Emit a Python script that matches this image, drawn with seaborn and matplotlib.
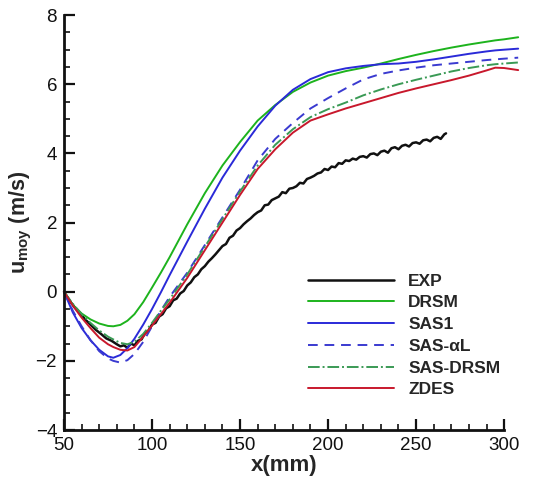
import matplotlib
matplotlib.use("Agg")
import matplotlib.pyplot as plt
import seaborn as sns
import pandas as pd
from matplotlib.ticker import MultipleLocator

sns.set_style("ticks")
plt.rcParams['font.family'] = ['Liberation Sans', 'DejaVu Sans']
plt.rcParams['mathtext.fontset'] = 'custom'
plt.rcParams['mathtext.bf'] = 'Liberation Sans:bold'
plt.rcParams['mathtext.rm'] = 'Liberation Sans'

# ---- data ----
exp_x = [50, 53, 56, 59, 62, 65, 68, 71, 74, 77, 80, 82, 84, 86, 88, 90, 92, 94, 96, 98,
         100, 102, 104, 106, 108, 110, 112, 114, 116, 118, 120, 122, 124, 126, 128, 130,
         132, 134, 136, 138, 140, 142, 144, 146, 148, 150, 152, 154, 156, 158, 160, 162,
         164, 166, 168, 170, 172, 174, 176, 178, 180, 182, 184, 186, 188, 190, 192, 194,
         196, 198, 200, 202, 204, 206, 208, 210, 212, 214, 216, 218, 220, 222, 224, 226,
         228, 230, 232, 234, 236, 238, 240, 242, 244, 246, 248, 250, 252, 254, 256, 258,
         260, 262, 264, 266, 267]
exp_y = [0.0, -0.25, -0.45, -0.62, -0.8, -0.95, -1.1, -1.22, -1.35, -1.42, -1.52, -1.58,
         -1.55, -1.62, -1.5, -1.55, -1.42, -1.38, -1.2, -1.12, -0.95, -0.9, -0.72, -0.65,
         -0.48, -0.42, -0.25, -0.2, -0.05, 0.02, 0.18, 0.27, 0.42, 0.5, 0.65, 0.74, 0.87,
         0.97, 1.08, 1.2, 1.32, 1.38, 1.56, 1.62, 1.77, 1.84, 1.95, 2.04, 2.12, 2.22, 2.3,
         2.35, 2.5, 2.52, 2.65, 2.7, 2.75, 2.88, 2.85, 2.98, 3.0, 3.05, 3.15, 3.13, 3.26,
         3.3, 3.35, 3.42, 3.45, 3.55, 3.52, 3.62, 3.6, 3.72, 3.7, 3.8, 3.78, 3.85, 3.82,
         3.9, 3.92, 3.88, 3.98, 4.0, 3.95, 4.05, 4.08, 4.02, 4.15, 4.18, 4.12, 4.22, 4.25,
         4.2, 4.3, 4.32, 4.28, 4.38, 4.4, 4.35, 4.45, 4.48, 4.42, 4.55, 4.58]

sim_x = [50, 55, 60, 65, 70, 75, 78, 82, 86, 90, 95, 100, 105, 110, 120, 130, 140, 150,
         160, 170, 180, 190, 200, 210, 220, 230, 240, 250, 260, 270, 280, 290, 295, 300, 308]
drsm_y = [0.0, -0.38, -0.63, -0.8, -0.92, -0.99, -1.0, -0.96, -0.84, -0.65, -0.3, 0.12,
          0.55, 1.0, 1.95, 2.85, 3.65, 4.33, 4.95, 5.4, 5.78, 6.05, 6.25, 6.38, 6.48, 6.6,
          6.73, 6.85, 6.96, 7.06, 7.15, 7.23, 7.27, 7.3, 7.36]
sas1_y = [0.0, -0.6, -1.05, -1.4, -1.68, -1.87, -1.91, -1.83, -1.63, -1.36, -0.95, -0.5,
          -0.02, 0.48, 1.45, 2.4, 3.3, 4.08, 4.78, 5.38, 5.84, 6.15, 6.35, 6.46, 6.53, 6.58,
          6.6, 6.65, 6.72, 6.8, 6.88, 6.95, 6.98, 7.0, 7.03]
sasal_y = [0.0, -0.55, -1.0, -1.4, -1.72, -1.93, -2.0, -2.05, -1.98, -1.8, -1.45, -1.0,
           -0.55, -0.15, 0.55, 1.35, 2.15, 2.95, 3.8, 4.42, 4.88, 5.3, 5.6, 5.88, 6.14,
           6.3, 6.4, 6.48, 6.55, 6.6, 6.65, 6.7, 6.72, 6.74, 6.77]
sasdrsm_y = [0.0, -0.35, -0.65, -0.9, -1.12, -1.3, -1.38, -1.48, -1.52, -1.45, -1.22, -0.9,
             -0.55, -0.22, 0.5, 1.3, 2.1, 2.9, 3.65, 4.25, 4.7, 5.05, 5.28, 5.47, 5.68, 5.85,
             6.0, 6.13, 6.25, 6.37, 6.47, 6.55, 6.58, 6.6, 6.63]
zdes_y = [0.0, -0.4, -0.75, -1.05, -1.33, -1.52, -1.6, -1.68, -1.7, -1.6, -1.3, -0.98,
          -0.65, -0.32, 0.4, 1.2, 2.0, 2.8, 3.55, 4.12, 4.6, 4.95, 5.13, 5.3, 5.45, 5.6,
          5.75, 5.88, 6.0, 6.12, 6.25, 6.4, 6.48, 6.47, 6.41]

labels = ["EXP", "DRSM", "SAS1", "SAS-\u03b1L", "SAS-DRSM", "ZDES"]
colors = ["#111111", "#1db31d", "#2a2ad8", "#3a3ad0", "#3a9a55", "#c8182c"]
styles = ["-", "-", "-", (0, (5, 3.5)), (0, (6, 1.5, 1, 1.5)), "-"]

# ---- figure ----
fig = plt.figure(figsize=(5.38, 4.83), dpi=100)
ax = fig.add_axes([0.119, 0.1097, 0.818, 0.859])

series = [(exp_x, exp_y), (sim_x, drsm_y), (sim_x, sas1_y), (sim_x, sasal_y),
          (sim_x, sasdrsm_y), (sim_x, zdes_y)]
for (xs, ys), lab, col, ls in zip(series, labels, colors, styles):
    df = pd.DataFrame({"x": xs, "y": ys})
    lw = 1.8 if lab == "EXP" else 1.4
    sns.lineplot(data=df, x="x", y="y", ax=ax, color=col, linestyle=ls, linewidth=lw,
                 label=lab, clip_on=False, estimator=None, sort=False)

ax.set_xlim(50, 300)
ax.set_ylim(-4, 8)
ax.xaxis.set_major_locator(MultipleLocator(50))
ax.xaxis.set_minor_locator(MultipleLocator(10))
ax.yaxis.set_major_locator(MultipleLocator(2))
ax.yaxis.set_minor_locator(MultipleLocator(0.5))

for s in ["top", "right"]:
    ax.spines[s].set_visible(False)
for s in ["left", "bottom"]:
    ax.spines[s].set_linewidth(2.0)
    ax.spines[s].set_color("#111111")

ax.tick_params(which="major", direction="in", length=8, width=1.6, labelsize=13.5,
               colors="#111111", pad=5)
ax.tick_params(which="minor", direction="in", length=4.5, width=1.2, colors="#111111")

ax.set_xlabel("x(mm)", fontsize=16, fontweight="bold", labelpad=1)
ax.set_ylabel(r"u$_{\mathbf{moy}}$ (m/s)", fontsize=15.5, fontweight="bold", labelpad=1)

leg = ax.legend(loc="upper left", bbox_to_anchor=(0.52, 0.415), frameon=False,
                handlelength=4.9, labelspacing=0.38, handletextpad=0.85,
                prop={"weight": "bold", "size": 12.5})

fig.savefig("out.png", dpi=100)
